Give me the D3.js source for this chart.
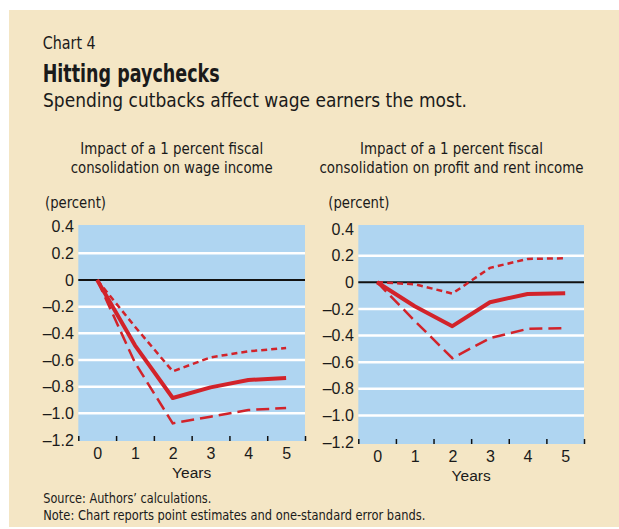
<!DOCTYPE html>
<html>
<head>
<meta charset="utf-8">
<script src="https://cdn.jsdelivr.net/npm/d3@7"></script>
<style>
  html, body { margin: 0; padding: 0; background: #fff; }
  svg { display: block; }
</style>
</head>
<body>
<svg id="chart"></svg>
<script>
// Chart 4: impact of fiscal consolidation on incomes

// data
const years = [0, 1, 2, 3, 4, 5];
const wageEstimate = [0, -0.49, -0.885, -0.805, -0.75, -0.735];
const wageUpper    = [0, -0.35, -0.685, -0.58, -0.535, -0.51];
const wageLower    = [0, -0.62, -1.075, -1.025, -0.975, -0.96];
const profitEstimate = [0, -0.18, -0.33, -0.15, -0.088, -0.083];
const profitUpper    = [0, -0.015, -0.085, 0.108, 0.175, 0.18];
const profitLower    = [0, -0.29, -0.57, -0.42, -0.35, -0.345];

const yTicks = [0.4, 0.2, 0, -0.2, -0.4, -0.6, -0.8, -1.0, -1.2];
const xTickMarks = [-0.5, 0.5, 1.5, 2.5, 3.5, 4.5, 5.5];
const panelTitles = [
  ["Impact of a 1 percent fiscal", "consolidation on wage income"],
  ["Impact of a 1 percent fiscal", "consolidation on profit and rent income"]
];

const W = 619, H = 529;
const narrow = "'Liberation Sans Narrow', 'DejaVu Sans Condensed', sans-serif";
const plain = "'Liberation Sans', Arial, sans-serif";
const ink = "#1a1a1a";
const red = "#d2232a";

var svg = d3.select("#chart")
  .attr("width", W)
  .attr("height", H)
  .attr("viewBox", [0, 0, W, H]);

svg.append("rect")
  .attr("x", 9).attr("y", 10)
  .attr("width", W - 9).attr("height", H - 12)
  .attr("fill", "#f4e6c5");

// headline texts
function label(txt, x, y, size, len, opts = {}) {
  return svg.append("text")
    .attr("x", x).attr("y", y)
    .attr("fill", ink)
    .attr("font-family", opts.family || narrow)
    .attr("font-size", size)
    .attr("font-weight", opts.weight || "normal")
    .attr("text-anchor", opts.anchor || "start")
    .attr("textLength", len)
    .attr("lengthAdjust", "spacingAndGlyphs")
    .text(txt);
}

label("Chart 4", 42.7, 49, 17, 53);
label("Hitting paychecks", 42.7, 81.7, 24, 177, { weight: "bold" });
label("Spending cutbacks affect wage earners the most.", 43, 107.3, 19, 424);
label("Source: Authors\u2019 calculations.", 43.3, 503.3, 14.5, 168);
label("Note: Chart reports point estimates and one-standard error bands.", 43.3, 520, 14.5, 382);

const panels = [
  {
    left: 78.3, right: 305, top: 225, bottom: 441, yMin: 440, yMax: 226.7,
    titleX: 171.7, titleLens: [183, 202], percentX: 45,
    est: wageEstimate, upper: wageUpper, lower: wageLower
  },
  {
    left: 358.3, right: 584, top: 225, bottom: 444, yMin: 442, yMax: 229,
    titleX: 451.5, titleLens: [183, 264], percentX: 328.3,
    est: profitEstimate, upper: profitUpper, lower: profitLower
  }
];

const fmt = d => d === 0 ? "0" : d3.format(".1f")(d).replace("\u2212", "\u2013");

panels.forEach((p, i) => {
  const x = d3.scaleLinear().domain([-0.5, 5.5]).range([p.left, p.right]);
  const y = d3.scaleLinear().domain([-1.2, 0.4]).range([p.yMin, p.yMax]);

  label(panelTitles[i][0], p.titleX, 154.3, 15.5, p.titleLens[0], { anchor: "middle" });
  label(panelTitles[i][1], p.titleX, 173.3, 15.5, p.titleLens[1], { anchor: "middle" });
  label("(percent)", p.percentX, 208.3, 15.5, 61);

  svg.append("rect")
    .attr("x", p.left).attr("y", p.top)
    .attr("width", p.right - p.left).attr("height", p.bottom - p.top)
    .attr("fill", "#afd5f1");

  // white grid lines, black zero line
  svg.append("g")
    .selectAll("line")
    .data(yTicks.filter(d => d < 0.4 && d > -1.2))
    .enter().append("line")
      .attr("x1", p.left).attr("x2", p.right)
      .attr("y1", d => y(d)).attr("y2", d => y(d))
      .attr("stroke", d => d === 0 ? "#111" : "#fff")
      .attr("stroke-width", d => d === 0 ? 2 : 2.5);

  // y axis labels
  const yAxis = svg.append("g")
    .attr("transform", `translate(${p.left},0)`)
    .call(d3.axisLeft(y).tickValues(yTicks).tickSize(0).tickPadding(4.5).tickFormat(fmt));
  yAxis.select(".domain").remove();
  yAxis.selectAll("text")
    .attr("fill", ink)
    .style("font", `16px ${plain}`);

  // tick marks between years
  const tickAxis = svg.append("g")
    .attr("transform", `translate(0,${p.bottom})`)
    .call(d3.axisBottom(x).tickValues(xTickMarks).tickSize(-5).tickFormat(""));
  tickAxis.select(".domain").remove();
  tickAxis.selectAll("line").attr("stroke", "#111").attr("stroke-width", 1.5);

  // year labels
  const xAxis = svg.append("g")
    .attr("transform", `translate(0,${p.bottom})`)
    .call(d3.axisBottom(x).tickValues(years).tickSize(0).tickPadding(6.5).tickFormat(d3.format("d")));
  xAxis.select(".domain").remove();
  xAxis.selectAll("text")
    .attr("fill", ink)
    .style("font", `16px ${plain}`);

  svg.append("text")
    .attr("x", (p.left + p.right) / 2)
    .attr("y", p.bottom + 36.5)
    .attr("text-anchor", "middle")
    .attr("fill", ink)
    .style("font", `15.5px ${plain}`)
    .text("Years");

  const line = d3.line()
    .x((d, j) => x(years[j]))
    .y(d => y(d));

  svg.append("path")
    .datum(p.upper)
    .attr("fill", "none")
    .attr("stroke", red)
    .attr("stroke-width", 2.5)
    .attr("stroke-dasharray", "6,4")
    .attr("d", line);

  svg.append("path")
    .datum(p.lower)
    .attr("fill", "none")
    .attr("stroke", red)
    .attr("stroke-width", 2.5)
    .attr("stroke-dasharray", "13,6")
    .attr("d", line);

  svg.append("path")
    .datum(p.est)
    .attr("fill", "none")
    .attr("stroke", red)
    .attr("stroke-width", 4)
    .attr("stroke-linejoin", "round")
    .attr("d", line);
});
</script>
</body>
</html>
